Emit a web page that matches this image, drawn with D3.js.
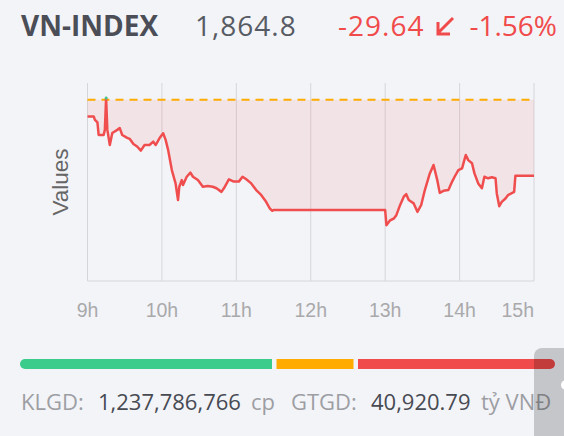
<!DOCTYPE html>
<html>
<head>
<meta charset="utf-8">
<script src="https://cdn.jsdelivr.net/npm/d3@7"></script>
<style>
    body { margin: 0; background: #f3f4f8; }
    svg { display: block; }
</style>
</head>
<body>
<svg id="chart"></svg>
<script>
// Index summary
const indexName = "VN-INDEX";
const lastValue = 1864.8;
const change = -29.64;
const changePct = -1.56;
const refValue = 1894.44;

// Intraday values (time, points)
const times = [
    "09:00", "09:05", "09:06", "09:08", "09:09", "09:13", "09:14", "09:15", "09:16", "09:18",
    "09:20", "09:24", "09:26", "09:28", "09:32", "09:34", "09:37", "09:40", "09:43", "09:46",
    "09:50", "09:53", "09:55", "09:58", "10:01", "10:03", "10:05", "10:08", "10:11", "10:13",
    "10:14", "10:16", "10:17", "10:20", "10:23", "10:25", "10:29", "10:33", "10:37", "10:41",
    "10:44", "10:48", "10:50", "10:54", "10:58", "11:02", "11:05", "11:08", "11:12", "11:16",
    "11:20", "11:24", "11:27", "11:29", "11:30", "13:00", "13:01", "13:04", "13:07", "13:09",
    "13:12", "13:15", "13:17", "13:19", "13:23", "13:26", "13:29", "13:32", "13:36", "13:39",
    "13:42", "13:44", "13:47", "13:51", "13:54", "13:56", "13:59", "14:02", "14:04", "14:05",
    "14:07", "14:10", "14:12", "14:15", "14:18", "14:20", "14:23", "14:26", "14:29", "14:30",
    "14:32", "14:34", "14:37", "14:39", "14:44", "14:45", "15:00"
];
const values = [
    1887.9, 1887.9, 1886.6, 1885.6, 1880.7, 1880.7, 1882.7, 1895.1, 1882.7, 1876.8,
    1881.5, 1882.7, 1883.4, 1880.7, 1879.6, 1879.2, 1877.2, 1876.2, 1874.6, 1876.8,
    1876.8, 1878.1, 1876.8, 1879.4, 1881.4, 1878.8, 1874.9, 1867.0, 1861.8, 1855.3,
    1860.5, 1863.1, 1861.2, 1864.4, 1866.0, 1864.4, 1863.1, 1860.5, 1860.8, 1860.5,
    1859.9, 1858.5, 1859.9, 1863.4, 1862.5, 1862.5, 1864.4, 1863.4, 1861.8, 1859.2,
    1857.3, 1854.6, 1852.0, 1851.1, 1851.4, 1851.4, 1845.5, 1847.4, 1848.1, 1849.4,
    1853.3, 1856.6, 1857.6, 1855.3, 1854.0, 1850.7, 1853.3, 1859.2, 1865.7, 1869.0,
    1863.1, 1858.1, 1858.9, 1859.2, 1862.5, 1864.4, 1867.0, 1867.7, 1871.2, 1872.9,
    1870.9, 1869.7, 1865.7, 1861.8, 1859.9, 1864.4, 1863.8, 1864.2, 1863.8, 1857.9,
    1852.9, 1854.6, 1855.9, 1857.2, 1858.5, 1864.8, 1864.8
];

// X axis ticks
const tickTimes = ["09:00", "10:00", "11:00", "12:00", "13:00", "14:00", "15:00"];
const tickLabels = ["9h", "10h", "11h", "12h", "13h", "14h", "15h"];

// Market breadth (advancing, unchanged, declining)
const breadthNames = ["up", "flat", "down"];
const breadthCounts = [252, 77, 197];
const breadthColors = ["#3bcb8a", "#ffab00", "#f04a4a"];

// Trading volume / value
const volume = "1,237,786,766";
const turnover = "40,920.79";

const W = 564, H = 436;
const parseTime = d3.timeParse("%H:%M");
const data = times.map((t, i) => ({ t: parseTime(t), v: values[i] }));

// plain hyphen for the minus sign, like the site does
const fmt = f => v => d3.format(f)(v).replace("\u2212", "-");

const svg = d3.select("#chart").attr("width", W).attr("height", H);

// Header
const head = svg.append("g")
    .attr("font-family", "'Open Sans', sans-serif")
    .attr("font-size", 28);
head.append("text").attr("x", 21).attr("y", 36)
    .attr("font-weight", 700).attr("fill", "#4b4e56")
    .text(indexName);
head.append("text").attr("x", 195).attr("y", 36)
    .attr("fill", "#575b64")
    .attr("letter-spacing", 1)
    .text(fmt(",.1f")(lastValue));
head.append("text").attr("x", 338).attr("y", 36)
    .attr("fill", "#f04a4a")
    .attr("letter-spacing", 1)
    .text(fmt(".2f")(change));
head.append("text").attr("x", 557).attr("y", 36).attr("text-anchor", "end")
    .attr("fill", "#f04a4a")
    .text(fmt(".2f")(changePct) + "%");

// down-left arrow
head.append("path")
    .attr("d", "M453,18 L438,33 M438,22 L438,34 L450,34")
    .attr("fill", "none").attr("stroke", "#f04a4a").attr("stroke-width", 3);

// Scales
const x = d3.scaleTime()
    .domain([parseTime("09:00"), parseTime("15:00")])
    .range([87.5, 534]);
const y = d3.scaleLinear()
    .domain([1823.7, 1901.0])
    .range([281, 83]);

// Grid lines
svg.append("g").selectAll("line")
    .data(tickTimes)
    .enter()
    .append("line")
    .attr("x1", d => x(parseTime(d))).attr("x2", d => x(parseTime(d)))
    .attr("y1", 83).attr("y2", 281)
    .attr("stroke", "#d6d6da").attr("stroke-width", 1);

svg.append("line")
    .attr("x1", x.range()[0]).attr("x2", x.range()[1])
    .attr("y1", 281).attr("y2", 281)
    .attr("stroke", "#d6d6da").attr("stroke-width", 1);

// Tick labels (last one kept inside the plot)
svg.append("g").selectAll("text")
    .data(tickTimes)
    .enter()
    .append("text")
    .attr("x", d => x(parseTime(d)))
    .attr("y", 317)
    .attr("text-anchor", (d, i) => i === tickTimes.length - 1 ? "end" : "middle")
    .attr("font-family", "'Liberation Sans', Arial, sans-serif")
    .attr("font-size", 19.5)
    .attr("fill", "#a9a9ab")
    .text((d, i) => tickLabels[i]);

// Y axis title
svg.append("text")
    .attr("transform", "translate(68,182) rotate(-90)")
    .attr("text-anchor", "middle")
    .attr("font-family", "'Liberation Sans', Arial, sans-serif")
    .attr("font-size", 22.5)
    .attr("fill", "#666")
    .text("Values");

// Area between price and reference
const area = d3.area()
    .x(d => x(d.t))
    .y0(y(refValue))
    .y1(d => y(d.v));

svg.append("path")
    .datum(data)
    .attr("d", area)
    .attr("fill", "#f04a4a")
    .attr("fill-opacity", 0.1);

// Reference line
svg.append("line")
    .attr("x1", x.range()[0]).attr("x2", x.range()[1])
    .attr("y1", y(refValue)).attr("y2", y(refValue))
    .attr("stroke", "#ffab00").attr("stroke-width", 2)
    .attr("stroke-dasharray", "8,6");

// Price line
const line = d3.line()
    .x(d => x(d.t))
    .y(d => y(d.v));

svg.append("path")
    .datum(data)
    .attr("d", line)
    .attr("fill", "none")
    .attr("stroke", "#f04e4e")
    .attr("stroke-width", 2.5)
    .attr("stroke-linejoin", "round");

// High marker
const high = data.reduce((m, d) => d.v > m.v ? d : m, data[0]);
svg.append("circle")
    .attr("cx", x(high.t)).attr("cy", y(high.v)).attr("r", 1.5)
    .attr("fill", "#3bcb8a");

// Breadth bar
const total = d3.sum(breadthCounts);
const gap = 4.5;
const bw = d3.scaleLinear().domain([0, total]).range([0, 555 - 20 - gap * (breadthCounts.length - 1)]);
let bx = 20;
const bars = breadthCounts.map((c, i) => {
    const b = { name: breadthNames[i], x: bx, w: bw(c), color: breadthColors[i] };
    bx += bw(c) + gap;
    return b;
});

const barG = svg.append("g");
bars.forEach((b, i) => {
    // rounded only at the outer ends
    const r = 5, y0 = 359, h = 10;
    let d;
    if (i === 0) {
        d = `M${b.x + r},${y0} H${b.x + b.w} V${y0 + h} H${b.x + r} A${r},${r} 0 0 1 ${b.x + r},${y0} Z`;
    } else if (i === bars.length - 1) {
        d = `M${b.x},${y0} H${b.x + b.w - r} A${r},${r} 0 0 1 ${b.x + b.w - r},${y0 + h} H${b.x} Z`;
    } else {
        d = `M${b.x},${y0} H${b.x + b.w} V${y0 + h} H${b.x} Z`;
    }
    barG.append("path").attr("d", d).attr("fill", b.color);
});

// Volume line
const foot = svg.append("g")
    .attr("font-family", "'Open Sans', sans-serif")
    .attr("font-size", 22);
const footItems = [
    { x: 21, text: "KLGD:", color: "#9d9ea3" },
    { x: 98, text: volume, color: "#474a52" },
    { x: 251, text: "cp", color: "#9d9ea3" },
    { x: 291, text: "GTGD:", color: "#9d9ea3" },
    { x: 371, text: turnover, color: "#474a52" },
    { x: 481, text: "tỷ VNĐ", color: "#9d9ea3" }
];
foot.selectAll("text")
    .data(footItems)
    .enter()
    .append("text")
    .attr("x", d => d.x).attr("y", 410)
    .attr("fill", d => d.color)
    .text(d => d.text);

// Scroll button overlay at the right edge
svg.append("rect")
    .attr("x", 534).attr("y", 348).attr("width", 40).attr("height", 100)
    .attr("rx", 8).attr("fill", "#000").attr("fill-opacity", 0.19);
svg.append("circle")
    .attr("cx", 566).attr("cy", 385).attr("r", 5).attr("fill", "#fff");
</script>
</body>
</html>
